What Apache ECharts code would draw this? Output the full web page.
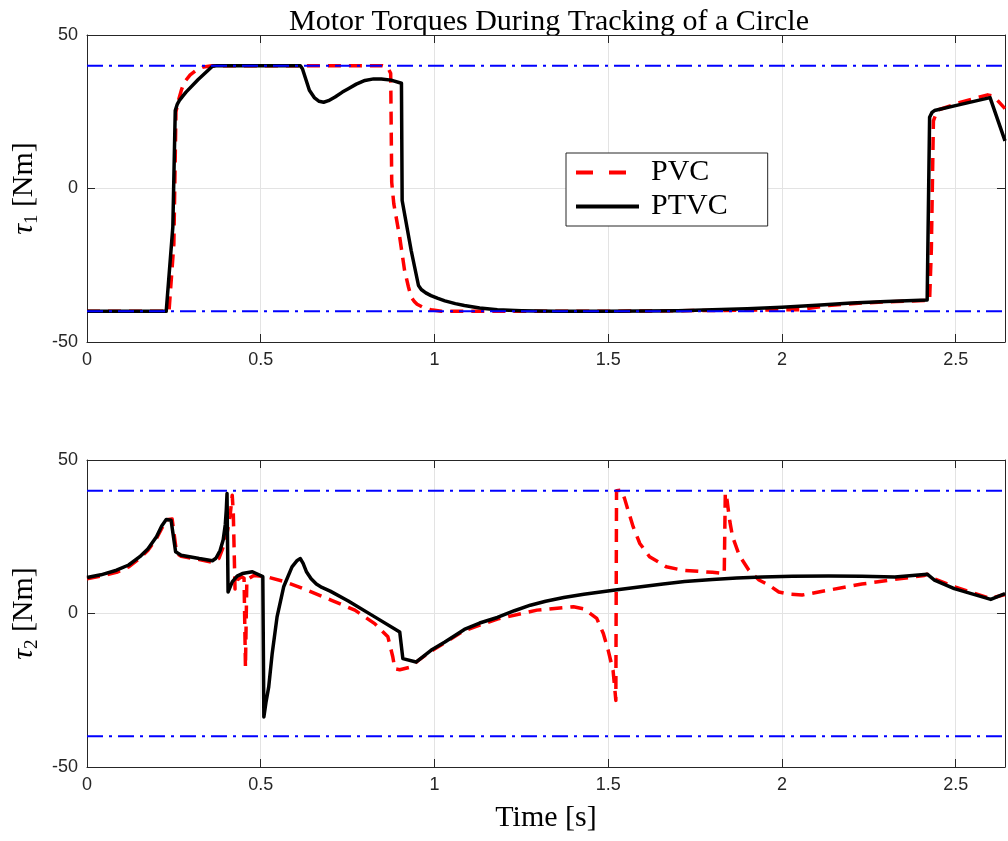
<!DOCTYPE html>
<html>
<head>
<meta charset="utf-8">
<script src="https://cdn.jsdelivr.net/npm/echarts@6/dist/echarts.min.js"></script>
<style>html,body{margin:0;padding:0;background:#fff}#c{width:1008px;height:841px}</style>
</head>
<body>
<div id="c"></div>
<script>
// ---- data ----
const xTickLabels = ['0', '0.5', '1', '1.5', '2', '2.5'];
const yTickLabels = ['-50', '0', '50'];
const limits = [-40, 40];
const limitT = [0, 2.642];

const tau1_ptvc_t = [0, 0.228, 0.247, 0.254, 0.26, 0.266, 0.275, 0.285, 0.32, 0.361, 0.372, 0.614, 0.62, 0.63, 0.64, 0.655, 0.668, 0.681, 0.695, 0.714, 0.735, 0.752, 0.775, 0.8, 0.825, 0.847, 0.875, 0.905, 0.907, 0.933, 0.954, 0.962, 0.975, 0.99, 1.01, 1.03, 1.06, 1.086, 1.13, 1.181, 1.25, 1.35, 1.5, 1.7, 1.9, 2.0, 2.1, 2.2, 2.3, 2.418, 2.425, 2.432, 2.439, 2.515, 2.599, 2.642];
const tau1_ptvc_v = [-40, -40, -12.6, 25.4, 27.5, 28.7, 30, 31.4, 35.5, 39.8, 40, 40, 39, 35.5, 32, 29.5, 28.4, 28.1, 28.6, 29.8, 31.4, 32.5, 34, 35.2, 35.7, 35.7, 35.3, 34.3, -3.9, -20.2, -31.6, -32.9, -34, -34.9, -35.8, -36.6, -37.5, -38.1, -38.9, -39.5, -39.8, -40, -40, -39.8, -39.2, -38.7, -38.0, -37.3, -36.8, -36.3, 23.2, 24.8, 25.4, 27.4, 29.6, 15.5];

const tau1_pvc_t = [0, 0.236, 0.25, 0.256, 0.264, 0.272, 0.28, 0.297, 0.314, 0.335, 0.36, 0.85, 0.865, 0.874, 0.877, 0.883, 0.9, 0.914, 0.925, 0.933, 0.942, 0.95, 0.967, 0.99, 1.02, 1.5, 2.05, 2.134, 2.23, 2.33, 2.425, 2.43, 2.436, 2.447, 2.515, 2.592, 2.61, 2.642];
const tau1_pvc_v = [-40, -40, -18, 25, 29, 32.2, 34.6, 37, 38.5, 39.6, 40, 40, 39.5, 37.5, 2, -5, -15.9, -26.7, -32, -35.4, -36.8, -37.7, -38.7, -39.5, -40, -40, -39.5, -38.1, -37.3, -36.8, -36.4, -20, 22, 25.5, 28.1, 30.5, 30, 26];

const tau2_ptvc_t = [0, 0.04, 0.085, 0.12, 0.152, 0.175, 0.2, 0.215, 0.228, 0.242, 0.255, 0.271, 0.323, 0.361, 0.371, 0.383, 0.392, 0.398, 0.401, 0.403, 0.406, 0.418, 0.432, 0.447, 0.476, 0.506, 0.509, 0.515, 0.523, 0.533, 0.547, 0.566, 0.59, 0.605, 0.614, 0.622, 0.632, 0.645, 0.66, 0.676, 0.7, 0.752, 0.828, 0.9, 0.909, 0.947, 0.99, 1.03, 1.086, 1.13, 1.181, 1.23, 1.276, 1.32, 1.372, 1.43, 1.515, 1.6, 1.658, 1.72, 1.8, 1.87, 1.943, 2.03, 2.134, 2.23, 2.325, 2.418, 2.439, 2.496, 2.601, 2.642];
const tau2_ptvc_v = [11.7, 12.6, 14.1, 15.8, 18.5, 21, 25, 28.5, 30.6, 30.4, 20.1, 19, 17.9, 17.2, 18, 20.5, 24, 29, 34, 39.1, 7, 10.3, 12.2, 13, 13.6, 12, -33.7, -29, -23.9, -13, -1.1, 8.7, 15.2, 17.3, 17.9, 16.3, 13.5, 11.3, 9.6, 8.5, 7.3, 4.1, -1.1, -6, -14.7, -15.8, -12, -9.3, -5.2, -3.1, -1.3, 0.9, 2.7, 4, 5.2, 6.3, 7.6, 8.8, 9.6, 10.4, 11.1, 11.6, 11.9, 12.1, 12.2, 12.1, 11.9, 12.8, 10.9, 8.1, 4.6, 6.5];

const tau2_pvc_t = [0, 0.04, 0.085, 0.12, 0.152, 0.175, 0.2, 0.228, 0.245, 0.258, 0.271, 0.323, 0.361, 0.38, 0.4, 0.412, 0.418, 0.421, 0.426, 0.433, 0.445, 0.452, 0.456, 0.46, 0.48, 0.515, 0.571, 0.609, 0.704, 0.771, 0.828, 0.866, 0.88, 0.886, 0.9, 0.933, 0.95, 0.99, 1.085, 1.181, 1.295, 1.4, 1.43, 1.467, 1.486, 1.5, 1.514, 1.522, 1.524, 1.538, 1.547, 1.557, 1.572, 1.591, 1.619, 1.667, 1.715, 1.8, 1.834, 1.837, 1.842, 1.85, 1.858, 1.877, 1.905, 1.934, 1.963, 1.991, 2.02, 2.058, 2.134, 2.23, 2.325, 2.41, 2.418, 2.44, 2.5, 2.6, 2.642];
const tau2_pvc_v = [11.3, 12.2, 13.4, 15.2, 18, 20.5, 24.5, 30.5, 30.8, 19.6, 18.6, 17.6, 16.7, 18, 24, 32, 38.5, 33, 8, 11, 12, 11.5, -17.5, 11, 12.4, 12, 10.3, 8.7, 4.3, 1.1, -3.3, -7.6, -14.1, -18, -18.3, -17.4, -15.6, -12.3, -5.6, -1.8, 1.1, 2.2, 1.5, -1.6, -6.5, -12, -18.5, -28.3, 40, 40.2, 37.5, 33.7, 28.2, 22.8, 18.5, 15.2, 14.1, 13.4, 13, 39.3, 37, 30, 25, 19, 14.1, 10.9, 9.2, 7, 6.3, 6, 7.6, 9.6, 11.1, 12.4, 12.8, 11.2, 8.6, 4.9, 6.2];

// ---- build ----
const zip = (a, b) => a.map((x, i) => [x, b[i]]);
const AX = '#262626';
const SERIF = '"Liberation Serif", "DejaVu Serif", serif';
const SANS = 'Arial, "Liberation Sans", Helvetica, sans-serif';
const XMAX = limitT[1];

function xAx(gi, pos) {
  const bottom = pos === 'bottom';
  return {
    type: 'value', gridIndex: gi, position: pos, min: 0, max: XMAX, interval: 0.5,
    axisLine: { show: true, onZero: false, lineStyle: { color: AX, width: 1 } },
    axisTick: { show: true, inside: true, length: 8, lineStyle: { color: AX } },
    axisLabel: {
      show: bottom, color: AX, fontSize: 18, fontFamily: SANS, margin: 9,
      formatter: v => { const s = String(Math.round(v * 100) / 100); return xTickLabels.indexOf(s) >= 0 ? s : ''; }
    },
    splitLine: { show: bottom, lineStyle: { color: '#e3e3e3', width: 1 } },
    name: (gi === 1 && bottom) ? 'Time [s]' : '', nameLocation: 'middle', nameGap: 36,
    nameTextStyle: { fontFamily: SERIF, fontSize: 30, color: '#000' }
  };
}
function yAx(gi, pos, nm) {
  const left = pos === 'left';
  return {
    type: 'value', gridIndex: gi, position: pos, min: -50, max: 50, interval: 50,
    axisLine: { show: true, onZero: false, lineStyle: { color: AX, width: 1 } },
    axisTick: { show: true, inside: true, length: 8, lineStyle: { color: AX } },
    axisLabel: { show: left, color: AX, fontSize: 18, fontFamily: SANS, margin: 9,
      formatter: v => { const s = String(v); return yTickLabels.indexOf(s) >= 0 ? s : ''; } },
    splitLine: { show: left, lineStyle: { color: '#e3e3e3', width: 1 } },
    name: left ? nm : '', nameLocation: 'middle', nameGap: 45, nameRotate: 90,
    nameTextStyle: {
      fontFamily: SERIF, fontSize: 30, color: '#000',
      rich: {
        t: { fontFamily: SERIF, fontSize: 30, fontStyle: 'italic', color: '#000' },
        s: { fontFamily: SERIF, fontSize: 19, color: '#000', padding: [14, 0, 0, 0] },
        n: { fontFamily: SERIF, fontSize: 30, color: '#000' }
      }
    }
  };
}

function line(name, xi, t, v, color, type, z) {
  return {
    name: name, type: 'line', xAxisIndex: xi, yAxisIndex: xi, data: zip(t, v),
    symbol: 'none', showSymbol: false, smooth: false, z: z, animation: false,
    lineStyle: { color: color, width: 3.5, type: type, cap: 'butt', join: 'round' },
    itemStyle: { color: color }
  };
}
function limitLine(xi, val) {
  return {
    type: 'line', xAxisIndex: xi, yAxisIndex: xi, data: limitT.map(t => [t, val]),
    symbol: 'none', z: 5, animation: false, silent: true,
    lineStyle: { color: '#0000ff', width: 2, type: [16, 6, 3, 6] }
  };
}

const option = {
  backgroundColor: '#fff',
  animation: false,
  graphic: [{
    type: 'text', x: 549, y: 7,
    style: { text: 'Motor Torques During Tracking of a Circle', fontFamily: SERIF, fontSize: 30,
      fill: '#000', align: 'center', verticalAlign: 'top' }
  }],
  grid: [
    { left: 87, top: 35, right: -3, height: 307, containLabel: false },
    { left: 87, top: 460, right: -3, height: 307, containLabel: false }
  ],
  xAxis: [xAx(0, 'bottom'), xAx(1, 'bottom'), xAx(0, 'top'), xAx(1, 'top')],
  yAxis: [yAx(0, 'left', '{t|τ}{s|1}{n| [Nm]}'), yAx(1, 'left', '{t|τ}{s|2}{n| [Nm]}'), yAx(0, 'right', ''), yAx(1, 'right', '')],
  legend: {
    data: [
      { name: 'PVC', lineStyle: { width: 4, type: [17, 16], color: '#ff0000' } },
      { name: 'PTVC', lineStyle: { width: 4, type: 'solid', color: '#000000' } }
    ],
    orient: 'vertical', left: 566, top: 153,
    itemWidth: 63, itemHeight: 14, itemGap: 3,
    backgroundColor: '#fff', borderColor: AX, borderWidth: 1, borderRadius: 0,
    padding: [4, 40, 4, 8],
    itemStyle: { opacity: 0, borderWidth: 0 },
    textStyle: { fontFamily: SERIF, fontSize: 30, color: '#000', lineHeight: 31, padding: [0, 0, 0, 7] },
    selectedMode: false
  },
  series: [
    line('PVC', 0, tau1_pvc_t, tau1_pvc_v, '#ff0000', [13, 8], 2),
    line('PTVC', 0, tau1_ptvc_t, tau1_ptvc_v, '#000000', 'solid', 3),
    line('PVC', 1, tau2_pvc_t, tau2_pvc_v, '#ff0000', [13, 8], 2),
    line('PTVC', 1, tau2_ptvc_t, tau2_ptvc_v, '#000000', 'solid', 3),
    limitLine(0, limits[1]), limitLine(0, limits[0]),
    limitLine(1, limits[1]), limitLine(1, limits[0])
  ]
};
const chart = echarts.init(document.getElementById('c'), null, { renderer: 'canvas' });
chart.setOption(option);
</script>
</body>
</html>
